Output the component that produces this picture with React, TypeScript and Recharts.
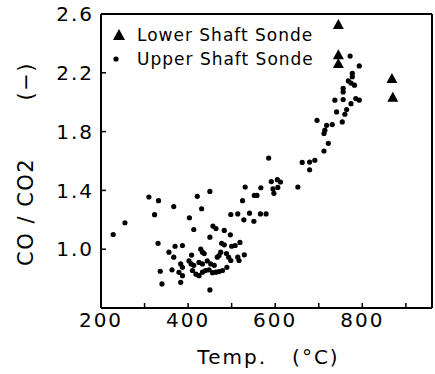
import { ScatterChart, Scatter, XAxis, YAxis, ReferenceLine, Legend, Label } from "recharts";

const FONT = "'DejaVu Sans', sans-serif";

const seriesNames = ["Lower Shaft Sonde", "Upper Shaft Sonde"];

// lower shaft sonde (triangles)
const lowerTemp = [745, 745, 745, 868, 870];
const lowerRatio = [2.525, 2.32, 2.26, 2.157, 2.03];

// upper shaft sonde (dots)
const upperTemp = [
  228, 255, 310, 323, 332, 331, 367, 336, 340, 356, 363, 367, 370, 387,
  403, 413, 421, 431, 450, 450, 450, 457, 464, 483, 497,
  408, 429, 433, 437, 475, 471, 467, 477, 483, 488, 493, 498, 500, 508, 514, 517, 519, 529,
  383, 387, 379, 387, 383,
  402, 407, 413, 425, 433, 444, 452, 460, 410, 418, 425, 433, 440, 448, 456, 464, 471, 479, 489,
  498, 514, 528, 525, 531, 541, 551, 552, 558, 567, 566, 579, 585, 591, 605, 612, 595, 597, 606,
  652, 662, 679, 691, 679, 712, 722,
  712, 714, 718, 731, 696, 754, 741, 760, 764, 737, 756, 774, 785, 793, 756, 756, 768, 774, 782,
  777, 777, 772, 793,
];
const upperRatio = [
  1.1, 1.18, 1.355, 1.235, 1.33, 1.04, 1.29, 0.85, 0.764, 0.98, 0.86, 0.946, 1.02, 1.025,
  1.214, 1.134, 1.36, 1.275, 1.393, 1.082, 0.723, 1.157, 1.14, 1.128, 1.098,
  0.96, 1.0, 0.98, 0.97, 0.98, 0.957, 0.946, 1.04, 1.03, 0.97, 0.946, 0.923, 1.02, 1.025, 0.946, 0.923, 1.046, 0.962,
  0.9, 0.877, 0.843, 0.82, 0.775,
  0.92, 0.9, 0.89, 0.91, 0.9, 0.92, 0.9, 0.89, 0.855, 0.83, 0.82, 0.844, 0.855, 0.86, 0.84, 0.844, 0.848, 0.855, 0.877,
  1.236, 1.24, 1.2, 1.33, 1.423, 1.245, 1.19, 1.366, 1.366, 1.418, 1.24, 1.24, 1.62, 1.46, 1.473, 1.457, 1.41, 1.38, 1.42,
  1.423, 1.59, 1.593, 1.605, 1.54, 1.668, 1.72,
  1.787, 1.81, 1.843, 1.848, 1.877, 1.866, 1.934, 1.918, 1.95, 2.014, 2.018, 1.99, 2.025, 2.014, 2.094, 2.07, 2.145, 2.13, 2.116,
  2.196, 2.173, 2.314, 2.247,
];

const xTicks = [200, 300, 400, 500, 600, 700, 800, 900];
const yTicks = [1.0, 1.4, 1.8, 2.2, 2.6];

const lowerData = lowerTemp.map((t, i) => ({ t, r: lowerRatio[i] }));
const upperData = upperTemp.map((t, i) => ({ t, r: upperRatio[i] }));

const DotShape = (p: any) => <circle cx={p.cx} cy={p.cy} r={2.6} fill="#000" />;
const TriShape = (p: any) => (
  <polygon
    points={`${p.cx},${p.cy - 6} ${p.cx - 5.5},${p.cy + 4} ${p.cx + 5.5},${p.cy + 4}`}
    fill="#000"
  />
);

const renderLegend = () => (
  <div style={{ fontFamily: FONT, fontSize: 17, letterSpacing: 1, color: "#000", lineHeight: "24px" }}>
    {seriesNames.map((name, i) => (
      <div key={name} style={{ display: "flex", alignItems: "center", height: 24 }}>
        <svg width={20} height={24} style={{ marginRight: 8 }}>
          {i === 0 ? (
            <polygon points="10,6 4,17 16,17" fill="#000" />
          ) : (
            <circle cx={7} cy={12} r={2.6} fill="#000" />
          )}
        </svg>
        <span>{name}</span>
      </div>
    ))}
  </div>
);

const tickStyle = { fill: "#000", fontSize: 20, fontFamily: FONT, letterSpacing: 2 };

export default function App() {
  return (
    <div style={{ position: "absolute", left: 0, top: 0, width: 435, height: 374, background: "#fff" }}>
      <ScatterChart width={435} height={374} margin={{ top: 14, right: 3, left: 0, bottom: 0 }}>
        <XAxis
          type="number"
          dataKey="t"
          domain={[200, 960]}
          ticks={xTicks}
          interval={0}
          allowDataOverflow
          height={66}
          tickSize={-5}
          tickMargin={10}
          tickFormatter={(v: number) => (v % 200 === 0 ? String(v) : "")}
          axisLine={{ stroke: "#000", strokeWidth: 2 }}
          tickLine={{ stroke: "#000", strokeWidth: 1.5 }}
          tick={tickStyle}
        >
          <Label
            content={(props: any) => {
              const vb = props.viewBox;
              return (
                <text
                  x={vb.x + vb.width / 2 + 2}
                  y={vb.y + 56}
                  textAnchor="middle"
                  fontFamily={FONT}
                  fontSize={20}
                  letterSpacing={2}
                  fill="#000"
                >
                  {"Temp.\u00a0\u00a0\u00a0(°C)"}
                </text>
              );
            }}
          />
        </XAxis>
        <YAxis
          type="number"
          dataKey="r"
          domain={[0.6, 2.6]}
          ticks={yTicks}
          interval={0}
          allowDataOverflow
          width={101}
          tickSize={-5}
          tickMargin={12}
          tickFormatter={(v: number) => v.toFixed(1)}
          axisLine={{ stroke: "#000", strokeWidth: 2 }}
          tickLine={{ stroke: "#000", strokeWidth: 1.5 }}
          tick={tickStyle}
        >
          <Label
            content={(props: any) => {
              const vb = props.viewBox;
              return (
                <text
                  transform={`translate(25, ${vb.y + vb.height / 2 + 3}) rotate(-90)`}
                  textAnchor="middle"
                  dy="0.36em"
                  fontFamily={FONT}
                  fontSize={21}
                  letterSpacing={1.5}
                  fill="#000"
                >
                  {"CO / CO2\u00a0\u00a0\u00a0\u00a0\u00a0\u00a0\u00a0(−)"}
                </text>
              );
            }}
          />
        </YAxis>
        <ReferenceLine y={2.6} stroke="#000" strokeWidth={2} />
        <ReferenceLine x={960} stroke="#000" strokeWidth={2} />
        <Legend
          verticalAlign="middle"
          align="center"
          layout="horizontal"
          content={renderLegend}
          wrapperStyle={{ left: 109, top: 23, width: "auto", height: "auto" }}
        />
        <Scatter name={seriesNames[0]} data={lowerData} shape={TriShape} isAnimationActive={false} />
        <Scatter name={seriesNames[1]} data={upperData} shape={DotShape} isAnimationActive={false} />
      </ScatterChart>
    </div>
  );
}
